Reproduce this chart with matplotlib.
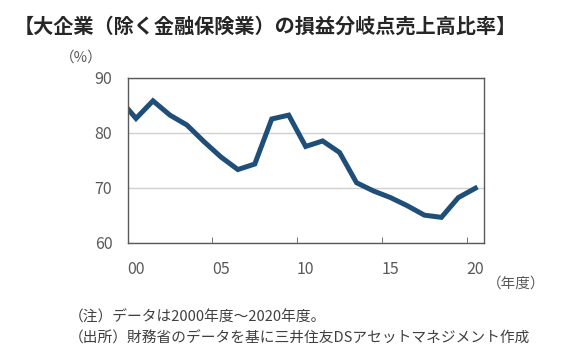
import matplotlib
matplotlib.use("Agg")
import matplotlib.pyplot as plt

plt.rcParams['font.family'] = ['Noto Sans CJK JP', 'DejaVu Sans']

# fiscal years 1999..2020 (1999 only shows as the clipped start of the line)
years = list(range(1999, 2021))
ratio = [86.2, 82.6, 85.8, 83.2, 81.4, 78.4, 75.6, 73.3, 74.3, 82.5, 83.2,
         77.5, 78.5, 76.4, 70.9, 69.4, 68.2, 66.7, 65.0, 64.6, 68.2, 69.9]
tick_years = [2000, 2005, 2010, 2015, 2020]
tick_labels = ['00', '05', '10', '15', '20']

fig = plt.figure(figsize=(5.85, 3.6), dpi=100)
ax = fig.add_axes([0.218, 0.326, 0.609, 0.458])

# category style axis: each year centred in its slot
xpos = [y - 2000 + 0.5 for y in years]
ax.plot(xpos, ratio, color='#1F4E79', lw=3.6, solid_joinstyle='miter', clip_on=True)

ax.set_xlim(0, 21)
ax.set_ylim(60, 90)
ax.set_yticks([60, 70, 80, 90])
ax.grid(axis='y', color='#D0D0D0', lw=1)
ax.set_axisbelow(True)

ax.set_xticks([y - 2000 + 0.5 for y in tick_years])
ax.set_xticklabels(tick_labels)
ax.set_xticks([5, 10, 15, 20], minor=True)
ax.tick_params(axis='x', which='major', length=0, pad=13, labelsize=11.5, labelcolor='#595959')
ax.tick_params(axis='x', which='minor', direction='in', length=4, color='#595959')
ax.tick_params(axis='y', length=0, pad=11, labelsize=11.5, labelcolor='#595959')

for s in ax.spines.values():
    s.set_color('#595959')
    s.set_linewidth(1)

fig.text(0.024, 0.928, '【大企業（除く金融保険業）の損益分岐点売上高比率】',
         fontsize=14.5, fontweight='bold', color='#262626', va='center', ha='left')
fig.text(0.102, 0.84, '（%）', fontsize=10.5, color='#595959', va='center', ha='left')
fig.text(0.832, 0.213, '（年度）', fontsize=10.5, color='#595959', va='center', ha='left')
fig.text(0.118, 0.117, '（注）データは2000年度～2020年度。', fontsize=10.6,
         color='#404040', va='center', ha='left')
fig.text(0.118, 0.061, '（出所）財務省のデータを基に三井住友DSアセットマネジメント作成',
         fontsize=10.6, color='#404040', va='center', ha='left')

fig.savefig('out.png', dpi=100)
